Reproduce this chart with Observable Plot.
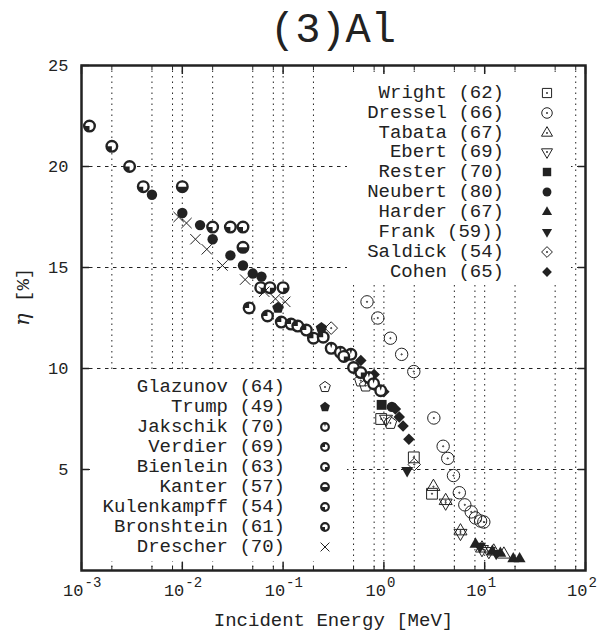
<!DOCTYPE html>
<html>
<head>
<meta charset="utf-8">
<script src="https://cdn.jsdelivr.net/npm/d3@7"></script>
<script src="https://cdn.jsdelivr.net/npm/@observablehq/plot@0.6"></script>
<style>
  body { margin: 0; background: #fff; }
  #wrap { position: relative; width: 602px; height: 633px; font-family: "Liberation Mono", monospace; color: #222; overflow: hidden; }
  #title { position: absolute; left: 81px; width: 504px; top: 8px; text-align: center; font-size: 42px; line-height: 46px; }
  #chart { position: absolute; left: 0; top: 55px; }
  .box { position: absolute; background: #fff; }
  .row { position: absolute; font-size: 19px; line-height: 20px; white-space: pre; text-align: right; }
  .sw { position: absolute; overflow: visible; }
</style>
</head>
<body>
<div id="wrap">
  <div id="title">(3)Al</div>
  <div id="chart"></div>
</div>
<script>
// Backscattering coefficient η of aluminium vs incident electron energy (MeV).
// Each array: [energy in MeV, η in %]
const wright      = [[0.94, 7.5], [1.98, 5.6], [3.0, 3.8]];
const dressel     = [[0.68, 13.3], [0.87, 12.5], [1.16, 11.5], [1.5, 10.7], [1.98, 9.85], [3.13, 7.55], [3.87, 6.15], [4.3, 5.55], [4.9, 4.7], [5.6, 3.85], [6.35, 3.25], [7.35, 2.9], [8.1, 2.6], [9.1, 2.45], [9.8, 2.4]];
const tabata      = [[3.1, 4.15], [4.1, 3.45], [5.75, 1.95], [9.4, 1.1], [12.3, 0.95], [15.5, 0.8]];
const ebert       = [[1.05, 7.5], [4.1, 3.35], [5.75, 1.85], [9.4, 1.05], [11.0, 0.95]];
const rester      = [[0.95, 8.2]];
const neubert     = [[5.0e-3, 18.6], [1.0e-2, 17.7], [1.5e-2, 17.1], [2.0e-2, 16.4], [3.0e-2, 15.6], [4.0e-2, 15.1], [5.0e-2, 14.7], [6.1e-2, 14.55], [0.133, 12.1], [1.2, 8.1]];
const harder      = [[8.1, 1.3], [11.9, 0.95], [14.3, 0.85], [19.2, 0.58], [22.2, 0.58]];
const frank       = [[1.7, 4.95], [9.0, 1.2], [13.0, 0.85]];
const saldick     = [[0.30, 12.0], [2.0, 5.25]];
const cohen       = [[0.59, 10.4], [0.8, 9.7], [1.0, 8.85], [1.3, 8.0], [1.42, 7.6], [1.55, 7.15], [1.77, 6.5]];
const glazunov    = [[0.59, 9.4], [0.66, 9.15], [1.16, 7.3]];
const trump       = [[0.089, 13.0], [0.24, 12.0]];
const jakschik    = [[0.3, 11.0], [0.37, 10.8], [0.47, 10.7], [0.71, 9.55], [0.79, 9.25], [0.93, 8.9]];
const verdier     = [[0.046, 13.0], [0.07, 12.6], [0.096, 12.3], [0.12, 12.2], [0.14, 12.1], [0.17, 11.9], [0.2, 11.5], [0.25, 11.55]];
const bienlein    = [[0.06, 14.0], [0.074, 14.0], [0.1, 14.0], [0.4, 10.6], [0.5, 10.05], [0.59, 9.8]];
const kanter      = [[0.01, 19.0], [0.04, 16.0]];
const kulenkampff = [[0.02, 17.0], [0.03, 17.0], [0.04, 17.0]];
const bronshtein  = [[1.2e-3, 22.0], [2.0e-3, 21.0], [3.0e-3, 20.0], [4.1e-3, 19.0]];
const drescher    = [[9.2e-3, 17.5], [1.1e-2, 17.2], [1.35e-2, 16.4], [1.75e-2, 15.9], [2.5e-2, 15.1], [4.2e-2, 14.4], [6.5e-2, 13.8], [8.4e-2, 13.45], [0.105, 13.3]];

// Axis ticks
const decades    = [1e-3, 1e-2, 1e-1, 1e0, 1e1, 1e2];
const exponents  = ["-3", "-2", "-1", "0", "1", "2"];
const minorTicks = [2e-3, 5e-3, 8e-3, 2e-2, 5e-2, 8e-2, 2e-1, 5e-1, 8e-1, 2e0, 5e0, 8e0, 2e1, 5e1, 8e1];
const innerDecades = [1e-2, 1e-1, 1e0, 1e1];
const yTicks     = [5, 10, 15, 20, 25];
const yGrid      = [5, 10, 15, 20];

const ink = "#222";

// ---- marker shapes (d3-symbol compatible) ----
const TAU = 2 * Math.PI;
const rOf = size => Math.sqrt(size / Math.PI);
function centerDot(ctx) { ctx.moveTo(0.6, 0); ctx.arc(0, 0, 0.6, 0, TAU); }
function poly(ctx, pts) { ctx.moveTo(pts[0][0], pts[0][1]); for (let i = 1; i < pts.length; i++) ctx.lineTo(pts[i][0], pts[i][1]); ctx.closePath(); }
function regular(n, R, rot) { const p = []; for (let i = 0; i < n; i++) { const a = rot + i * TAU / n; p.push([R * Math.cos(a), R * Math.sin(a)]); } return p; }

const shapes = {
  circleDot:  {draw(ctx, s) { const r = rOf(s); ctx.moveTo(r, 0); ctx.arc(0, 0, r, 0, TAU); centerDot(ctx); }},
  circle:     {draw(ctx, s) { const r = rOf(s); ctx.moveTo(r, 0); ctx.arc(0, 0, r, 0, TAU); }},
  squareDot:  {draw(ctx, s) { const h = rOf(s) * 0.9; poly(ctx, [[-h, -h], [h, -h], [h, h], [-h, h]]); centerDot(ctx); }},
  square:     {draw(ctx, s) { const h = rOf(s) * 0.9; poly(ctx, [[-h, -h], [h, -h], [h, h], [-h, h]]); }},
  triUpDot:   {draw(ctx, s) { poly(ctx, regular(3, rOf(s) * 1.25, -Math.PI / 2)); centerDot(ctx); }},
  triUp:      {draw(ctx, s) { poly(ctx, regular(3, rOf(s) * 1.25, -Math.PI / 2)); }},
  triDownDot: {draw(ctx, s) { poly(ctx, regular(3, rOf(s) * 1.25, Math.PI / 2)); centerDot(ctx); }},
  triDown:    {draw(ctx, s) { poly(ctx, regular(3, rOf(s) * 1.25, Math.PI / 2)); }},
  diamondDot: {draw(ctx, s) { poly(ctx, regular(4, rOf(s) * 1.15, -Math.PI / 2)); centerDot(ctx); }},
  diamond:    {draw(ctx, s) { poly(ctx, regular(4, rOf(s) * 1.15, -Math.PI / 2)); }},
  pentDot:    {draw(ctx, s) { poly(ctx, regular(5, rOf(s) * 1.1, -Math.PI / 2)); centerDot(ctx); }},
  pent:       {draw(ctx, s) { poly(ctx, regular(5, rOf(s) * 1.1, -Math.PI / 2)); }},
  cross:      {draw(ctx, s) { const a = rOf(s) * 0.8; ctx.moveTo(-a, -a); ctx.lineTo(a, a); ctx.moveTo(a, -a); ctx.lineTo(-a, a); }}
};
// filled sector, angles in clock degrees (0 = 12 o'clock, clockwise)
function wedge(c0, c1) {
  return {draw(ctx, s) {
    const r = rOf(s), a0 = (c0 - 90) * Math.PI / 180, a1 = (c1 - 90) * Math.PI / 180;
    ctx.moveTo(0, 0); ctx.arc(0, 0, r, a0, a1); ctx.closePath();
  }};
}

// ---- series styling ----
const open = (sym, r) => ({sym, r, fill: "none", stroke: ink, sw: 1});
const solid = (sym, r) => ({sym, r, fill: ink, stroke: "none", sw: 0});
const pie = (c0, c1) => ({pie: wedge(c0, c1), r: 5.3});

const seriesTop = [
  {name: "Wright (62)",  data: wright,  ...open(shapes.squareDot, 6)},
  {name: "Dressel (66)", data: dressel, ...open(shapes.circleDot, 6.2)},
  {name: "Tabata (67)",  data: tabata,  ...open(shapes.triUpDot, 6)},
  {name: "Ebert (69)",   data: ebert,   ...open(shapes.triDownDot, 6)},
  {name: "Rester (70)",  data: rester,  ...solid(shapes.square, 5.5)},
  {name: "Neubert (80)", data: neubert, ...solid(shapes.circle, 5.2)},
  {name: "Harder (67)",  data: harder,  ...solid(shapes.triUp, 5.5)},
  {name: "Frank (59))",  data: frank,   ...solid(shapes.triDown, 5.5)},
  {name: "Saldick (54)", data: saldick, ...open(shapes.diamondDot, 5.5)},
  {name: "Cohen (65)",   data: cohen,   ...solid(shapes.diamond, 5)}
];
const seriesBottom = [
  {name: "Glazunov (64)",    data: glazunov,    ...open(shapes.pentDot, 6)},
  {name: "Trump (49)",       data: trump,       ...solid(shapes.pent, 5.5)},
  {name: "Jakschik (70)",    data: jakschik,    ...pie(-16, 16)},
  {name: "Verdier (69)",     data: verdier,     ...pie(270, 360)},
  {name: "Bienlein (63)",    data: bienlein,    ...pie(90, 180)},
  {name: "Kanter (57)",      data: kanter,      ...pie(90, 270)},
  {name: "Kulenkampff (54)", data: kulenkampff, ...pie(180, 270)},
  {name: "Bronshtein (61)",  data: bronshtein,  ...pie(180, 270)},
  {name: "Drescher (70)",    data: drescher,    ...open(shapes.cross, 6.5)}
];
const allSeries = [...seriesTop, ...seriesBottom];

function dotMarks(s) {
  const pos = {x: d => d[0], y: d => d[1]};
  if (s.pie) {
    return [
      Plot.dot(s.data, {...pos, r: s.r, symbol: "circle", fill: "#fff", stroke: ink, strokeWidth: 2.4}),
      Plot.dot(s.data, {...pos, r: s.r, symbol: s.pie, fill: ink, stroke: "none"})
    ];
  }
  return [Plot.dot(s.data, {...pos, r: s.r, symbol: s.sym, fill: s.fill, stroke: s.stroke, strokeWidth: s.sw})];
}

const chart = Plot.plot({
  width: 602,
  height: 578,
  marginTop: 10,
  marginRight: 17,
  marginBottom: 63,
  marginLeft: 81,
  style: {fontFamily: '"Liberation Mono", monospace', fontSize: "17px", color: ink, background: "transparent", overflow: "visible"},
  x: {type: "log", domain: [1e-3, 1e2]},
  y: {domain: [0, 25]},
  marks: [
    Plot.ruleX([...minorTicks, ...innerDecades], {stroke: ink, strokeWidth: 1, strokeDasharray: "1.5,4"}),
    Plot.ruleY(yGrid, {stroke: ink, strokeWidth: 1, strokeDasharray: "3.5,4.5"}),
    ...allSeries.flatMap(dotMarks),
    // inward ticks on all four sides
    Plot.axisY({ticks: yTicks, tickSize: -8, tickPadding: 21, label: null, fontSize: 17, stroke: ink, strokeWidth: 1.5}),
    Plot.axisY({anchor: "right", ticks: yGrid, tickSize: -8, tickFormat: () => "", label: null, stroke: ink, strokeWidth: 1.5}),
    Plot.axisX({ticks: decades, tickSize: -8, tickFormat: () => "", label: null, stroke: ink, strokeWidth: 1.5}),
    Plot.axisX({ticks: minorTicks, tickSize: -4, tickFormat: () => "", label: null, stroke: ink, strokeWidth: 1}),
    Plot.axisX({anchor: "top", ticks: decades, tickSize: -8, tickFormat: () => "", label: null, stroke: ink, strokeWidth: 1.5}),
    Plot.axisX({anchor: "top", ticks: minorTicks, tickSize: -4, tickFormat: () => "", label: null, stroke: ink, strokeWidth: 1}),
    Plot.frame({stroke: ink, strokeWidth: 2.5}),
    // decade labels 10^n
    Plot.text(decades, {x: d => d, text: () => "10", frameAnchor: "bottom", textAnchor: "end", lineAnchor: "middle", dx: 2, dy: 20, fontSize: 17, fill: ink}),
    Plot.text(decades, {x: d => d, text: (d, i) => exponents[i], frameAnchor: "bottom", textAnchor: "start", lineAnchor: "middle", dx: 3, dy: 12, fontSize: 14, fill: ink}),
    // axis titles
    Plot.text(["Incident Energy [MeV]"], {text: d => d, frameAnchor: "bottom", lineAnchor: "middle", dy: 49, fontSize: 19, fill: ink}),
    Plot.text(["[%]"], {text: d => d, frameAnchor: "left", rotate: -90, lineAnchor: "middle", dx: -59, dy: -16, fontSize: 19, fill: ink}),
    Plot.text(["η"], {text: d => d, frameAnchor: "left", rotate: -90, lineAnchor: "middle", dx: -59, dy: 8, fontSize: 21, fontStyle: "italic", fontFamily: '"DejaVu Serif", serif', fill: ink})
  ]
});
document.getElementById("chart").appendChild(chart);

// ---- legends (white boxes inside the plot frame) ----
const wrap = document.getElementById("wrap");
function swatchSvg(s, cx, cy) {
  const k = s.pie ? 0.72 : 0.85;
  const size = Math.PI * (s.r * k) ** 2;
  const svgNS = "http://www.w3.org/2000/svg";
  const svg = document.createElementNS(svgNS, "svg");
  svg.setAttribute("class", "sw");
  svg.setAttribute("width", 24); svg.setAttribute("height", 24);
  svg.style.left = (cx - 12) + "px"; svg.style.top = (cy - 12) + "px";
  const g = document.createElementNS(svgNS, "g");
  g.setAttribute("transform", "translate(12,12)");
  const add = (type, attrs) => {
    const p = document.createElementNS(svgNS, "path");
    p.setAttribute("d", d3.symbol(type, size)());
    for (const [a, v] of Object.entries(attrs)) p.setAttribute(a, v);
    g.appendChild(p);
  };
  if (s.pie) {
    add(d3.symbolCircle, {fill: "#fff", stroke: ink, "stroke-width": 2.2});
    add(s.pie, {fill: ink, stroke: "none"});
  } else {
    add(s.sym, {fill: s.fill, stroke: s.stroke, "stroke-width": s.sw});
  }
  svg.appendChild(g);
  return svg;
}
function legend(list, box, textRight, symX, y0, step) {
  const b = document.createElement("div");
  b.className = "box";
  Object.assign(b.style, {left: box[0] + "px", top: box[1] + "px", width: (box[2] - box[0]) + "px", height: (box[3] - box[1]) + "px"});
  wrap.appendChild(b);
  list.forEach((s, i) => {
    const cy = y0 + i * step;
    const t = document.createElement("div");
    t.className = "row";
    t.textContent = s.name;
    Object.assign(t.style, {right: (602 - textRight) + "px", top: (cy - 10) + "px"});
    wrap.appendChild(t);
    wrap.appendChild(swatchSvg(s, symX, cy));
  });
}
legend(seriesTop, [347, 74, 571, 284], 504, 547, 92.7, 19.9);
legend(seriesBottom, [90, 370, 347, 561], 285, 325, 386.7, 20);
</script>
</body>
</html>
